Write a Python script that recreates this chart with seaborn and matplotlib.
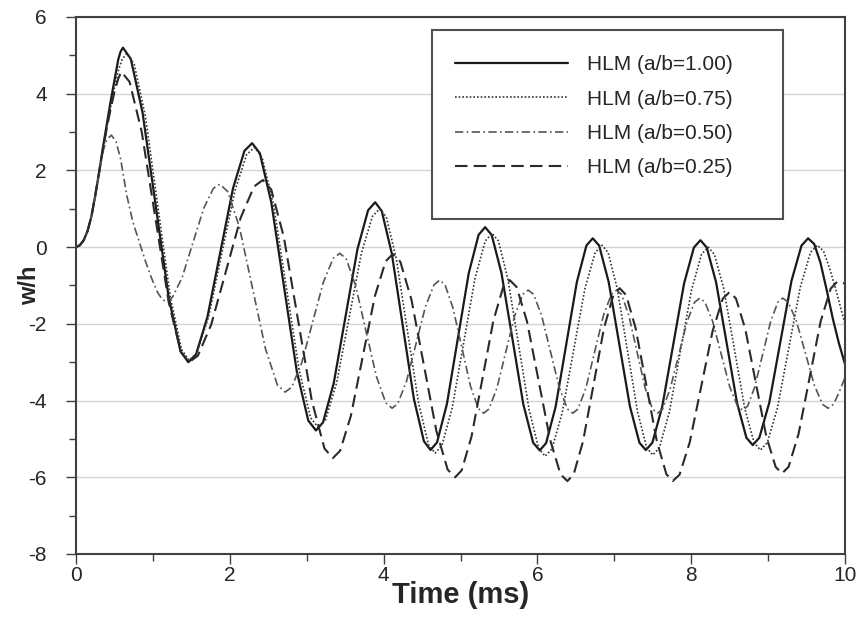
import numpy as np
import matplotlib
matplotlib.use("Agg")
import matplotlib.pyplot as plt
import seaborn as sns
from matplotlib.ticker import MultipleLocator
from matplotlib.patches import Rectangle

# ---- data (time in ms, w/h) ----
t_100 = [0, 0.05, 0.1, 0.15, 0.2, 0.25, 0.3, 0.35, 0.4, 0.45, 0.5, 0.55, 0.58, 0.61,
         0.712, 0.865, 1.035, 1.205, 1.358, 1.46,
         1.56, 1.709, 1.875, 2.041, 2.19, 2.29,
         2.39, 2.539, 2.705, 2.871, 3.02, 3.12,
         3.212, 3.351, 3.505, 3.659, 3.798, 3.89,
         3.976, 4.106, 4.25, 4.394, 4.524, 4.61,
         4.695, 4.823, 4.965, 5.107, 5.235, 5.32,
         5.405, 5.533, 5.675, 5.817, 5.945, 6.03,
         6.113, 6.237, 6.375, 6.513, 6.637, 6.72,
         6.803, 6.927, 7.065, 7.203, 7.327, 7.41,
         7.495, 7.623, 7.765, 7.907, 8.035, 8.12,
         8.202, 8.324, 8.46, 8.596, 8.718, 8.80,
         8.886, 9.016, 9.16, 9.304, 9.434, 9.52,
         9.6, 9.68, 9.76, 9.84, 9.92, 10.0]
w_100 = [0, 0.05, 0.18, 0.42, 0.8, 1.35, 1.95, 2.6, 3.2, 3.8, 4.35, 4.9, 5.1, 5.2,
         4.91, 3.51, 1.1, -1.31, -2.71, -3.0,
         -2.80, -1.82, -0.145, 1.53, 2.51, 2.71,
         2.45, 1.17, -1.035, -3.24, -4.52, -4.78,
         -4.57, -3.55, -1.805, -0.06, 0.96, 1.17,
         0.94, -0.16, -2.06, -3.96, -5.06, -5.29,
         -5.09, -4.09, -2.385, -0.68, 0.32, 0.52,
         0.32, -0.68, -2.39, -4.10, -5.10, -5.3,
         -5.11, -4.16, -2.535, -0.91, 0.04, 0.23,
         0.04, -0.91, -2.53, -4.15, -5.10, -5.29,
         -5.10, -4.16, -2.555, -0.95, -0.01, 0.18,
         -0.01, -0.92, -2.49, -4.06, -4.97, -5.16,
         -4.97, -4.05, -2.465, -0.88, 0.04, 0.23,
         0.08, -0.4, -1.1, -1.85, -2.5, -3.05]

t_075 = [0, 0.05, 0.1, 0.15, 0.2, 0.25, 0.3, 0.35, 0.4, 0.45, 0.5, 0.55, 0.6, 0.66,
         0.757, 0.903, 1.065, 1.227, 1.373, 1.47,
         1.572, 1.725, 1.895, 2.065, 2.218, 2.32,
         2.42, 2.569, 2.735, 2.901, 3.05, 3.15,
         3.246, 3.39, 3.55, 3.71, 3.854, 3.95,
         4.036, 4.166, 4.31, 4.454, 4.584, 4.67,
         4.759, 4.892, 5.04, 5.188, 5.321, 5.41,
         5.493, 5.617, 5.755, 5.893, 6.017, 6.10,
         6.189, 6.322, 6.47, 6.618, 6.751, 6.84,
         6.919, 7.038, 7.17, 7.302, 7.421, 7.50,
         7.586, 7.716, 7.86, 8.004, 8.134, 8.22,
         8.302, 8.424, 8.56, 8.696, 8.818, 8.90,
         8.989, 9.122, 9.27, 9.418, 9.551, 9.64,
         9.72, 9.8, 9.88, 9.94, 10.0]
w_075 = [0, 0.05, 0.18, 0.42, 0.78, 1.3, 1.9, 2.5, 3.1, 3.65, 4.15, 4.6, 4.9, 5.05,
         4.77, 3.40, 1.05, -1.30, -2.67, -2.95,
         -2.76, -1.81, -0.175, 1.46, 2.41, 2.6,
         2.34, 1.10, -1.05, -3.20, -4.45, -4.7,
         -4.50, -3.53, -1.85, -0.17, 0.80, 1.0,
         0.78, -0.31, -2.185, -4.06, -5.15, -5.37,
         -5.17, -4.19, -2.505, -0.82, 0.16, 0.36,
         0.16, -0.84, -2.545, -4.25, -5.25, -5.45,
         -5.26, -4.32, -2.7, -1.08, -0.14, 0.05,
         -0.14, -1.08, -2.685, -4.29, -5.23, -5.42,
         -5.23, -4.30, -2.71, -1.12, -0.19, 0.0,
         -0.19, -1.09, -2.645, -4.20, -5.10, -5.29,
         -5.10, -4.19, -2.62, -1.05, -0.14, 0.05,
         -0.1, -0.55, -1.1, -1.55, -2.0]

t_050 = [0, 0.05, 0.1, 0.15, 0.2, 0.25, 0.3, 0.35, 0.4, 0.46,
         0.52, 0.58, 0.66, 0.74, 0.82, 0.9, 0.98, 1.06, 1.12, 1.17,
         1.254, 1.38, 1.52, 1.66, 1.786, 1.87,
         1.972, 2.125, 2.295, 2.465, 2.618, 2.72,
         2.805, 2.933, 3.075, 3.217, 3.345, 3.43,
         3.512, 3.634, 3.77, 3.906, 4.028, 4.11,
         4.184, 4.296, 4.42, 4.544, 4.656, 4.73,
         4.798, 4.901, 5.015, 5.129, 5.232, 5.30,
         5.37, 5.474, 5.59, 5.706, 5.81, 5.88,
         5.95, 6.054, 6.17, 6.286, 6.39, 6.46,
         6.528, 6.631, 6.745, 6.859, 6.962, 7.03,
         7.094, 7.189, 7.295, 7.401, 7.496, 7.56,
         7.626, 7.725, 7.835, 7.945, 8.044, 8.11,
         8.177, 8.278, 8.39, 8.502, 8.603, 8.67,
         8.732, 8.826, 8.93, 9.034, 9.128, 9.19,
         9.261, 9.367, 9.485, 9.603, 9.709, 9.78,
         9.85, 9.92, 10.0]
w_050 = [0, 0.05, 0.18, 0.42, 0.8, 1.35, 1.95, 2.5, 2.8, 2.92,
         2.75, 2.3, 1.35, 0.65, 0.15, -0.35, -0.8, -1.18, -1.36, -1.42,
         -1.31, -0.79, 0.11, 1.01, 1.53, 1.64,
         1.45, 0.52, -1.07, -2.66, -3.59, -3.78,
         -3.65, -3.03, -1.97, -0.91, -0.29, -0.16,
         -0.30, -0.99, -2.18, -3.37, -4.06, -4.2,
         -4.08, -3.51, -2.53, -1.55, -0.98, -0.86,
         -0.98, -1.58, -2.595, -3.62, -4.21, -4.33,
         -4.22, -3.67, -2.725, -1.78, -1.23, -1.12,
         -1.23, -1.78, -2.725, -3.67, -4.22, -4.33,
         -4.22, -3.67, -2.725, -1.78, -1.23, -1.12,
         -1.23, -1.78, -2.725, -3.67, -4.22, -4.33,
         -4.23, -3.71, -2.83, -1.95, -1.44, -1.33,
         -1.43, -1.93, -2.79, -3.65, -4.15, -4.25,
         -4.15, -3.65, -2.79, -1.93, -1.43, -1.33,
         -1.43, -1.92, -2.765, -3.61, -4.10, -4.2,
         -4.1, -3.8, -3.4]

t_025 = [0, 0.05, 0.1, 0.15, 0.2, 0.25, 0.3, 0.35, 0.4, 0.45, 0.5, 0.55, 0.59,
         0.696, 0.854, 1.03, 1.206, 1.364, 1.47,
         1.585, 1.758, 1.95, 2.142, 2.315, 2.43,
         2.539, 2.703, 2.885, 3.067, 3.231, 3.34,
         3.434, 3.574, 3.73, 3.886, 4.026, 4.12,
         4.217, 4.363, 4.525, 4.687, 4.833, 4.93,
         5.015, 5.143, 5.285, 5.427, 5.555, 5.64,
         5.73, 5.865, 6.015, 6.165, 6.30, 6.39,
         6.472, 6.594, 6.73, 6.866, 6.988, 7.07,
         7.153, 7.277, 7.415, 7.553, 7.677, 7.76,
         7.849, 7.982, 8.13, 8.278, 8.411, 8.50,
         8.582, 8.704, 8.84, 8.976, 9.098, 9.18,
         9.266, 9.396, 9.54, 9.684, 9.814, 9.90,
         10.0]
w_025 = [0, 0.05, 0.18, 0.42, 0.8, 1.35, 1.95, 2.55, 3.1, 3.6, 4.05, 4.4, 4.57,
         4.31, 3.01, 0.785, -1.44, -2.74, -3.0,
         -2.83, -2.02, -0.625, 0.77, 1.58, 1.75,
         1.50, 0.26, -1.875, -4.01, -5.25, -5.5,
         -5.31, -4.40, -2.84, -1.28, -0.37, -0.18,
         -0.38, -1.38, -3.09, -4.80, -5.80, -6.0,
         -5.82, -4.94, -3.43, -1.92, -1.04, -0.86,
         -1.04, -1.94, -3.48, -5.02, -5.92, -6.1,
         -5.92, -5.06, -3.585, -2.11, -1.25, -1.07,
         -1.25, -2.11, -3.585, -5.06, -5.92, -6.1,
         -5.93, -5.08, -3.635, -2.19, -1.34, -1.17,
         -1.34, -2.14, -3.535, -4.93, -5.73, -5.9,
         -5.73, -4.87, -3.4, -1.93, -1.08, -0.9,
         -0.95]

labels = ["HLM (a/b=1.00)", "HLM (a/b=0.75)", "HLM (a/b=0.50)", "HLM (a/b=0.25)"]

sns.set_theme(style="white")
plt.rcParams["font.family"] = ["Liberation Sans", "DejaVu Sans"]
plt.rcParams["axes.unicode_minus"] = False

fig = plt.figure(figsize=(8.59, 6.18), dpi=100)
ax = fig.add_axes([0.0885, 0.1036, 0.8952, 0.8689])

styles = [
    dict(color="#1a1a1a", linestyle="-", linewidth=1.6),
    dict(color="#333333", linestyle=(0, (1, 1.2)), linewidth=1.2),
    dict(color="#555555", linestyle=(0, (5, 2, 1, 2)), linewidth=1.2),
    dict(color="#2a2a2a", linestyle=(0, (6, 3)), linewidth=1.5),
]
series = [(t_100, w_100), (t_075, w_075), (t_050, w_050), (t_025, w_025)]
for (t, w), lab, st in zip(series, labels, styles):
    sns.lineplot(x=t, y=w, ax=ax, label=lab, estimator=None, sort=False, **st)

ax.set_xlim(0, 10)
ax.set_ylim(-8, 6)
ax.xaxis.set_major_locator(MultipleLocator(2))
ax.xaxis.set_minor_locator(MultipleLocator(1))
ax.yaxis.set_major_locator(MultipleLocator(2))
ax.yaxis.set_minor_locator(MultipleLocator(1))
ax.tick_params(which="major", direction="out", length=7, width=1, color="#404040",
               labelsize=15, bottom=True, left=True)
ax.tick_params(which="minor", direction="out", length=5, width=1, color="#404040",
               bottom=True, left=True)
ax.tick_params(axis="y", pad=14)
ax.tick_params(axis="x", pad=2)
ax.grid(True, axis="y", which="major", color="#d4d4d4", linewidth=1)
ax.grid(False, axis="x")
for s in ax.spines.values():
    s.set_color("#404040")
    s.set_linewidth(1.5)

ax.set_xlabel("Time (ms)", fontsize=21, fontweight="bold", labelpad=-3)
ax.set_ylabel("w/h", fontsize=17, fontweight="bold")
ax.yaxis.set_label_coords(-0.046, 0.5)

# legend box (white, square corners) with the entries placed inside
box = Rectangle((0.463, 0.624), 0.456, 0.352, transform=ax.transAxes,
                facecolor="white", edgecolor="#505050", linewidth=1.5, zorder=4)
ax.add_patch(box)
leg = ax.legend(loc="upper left", bbox_to_anchor=(0.493, 0.929), fontsize=15,
                frameon=False, handlelength=5.4, handletextpad=0.95,
                borderpad=0, labelspacing=0.74, borderaxespad=0)
leg.set_zorder(5)

fig.savefig("out.png", dpi=100)
